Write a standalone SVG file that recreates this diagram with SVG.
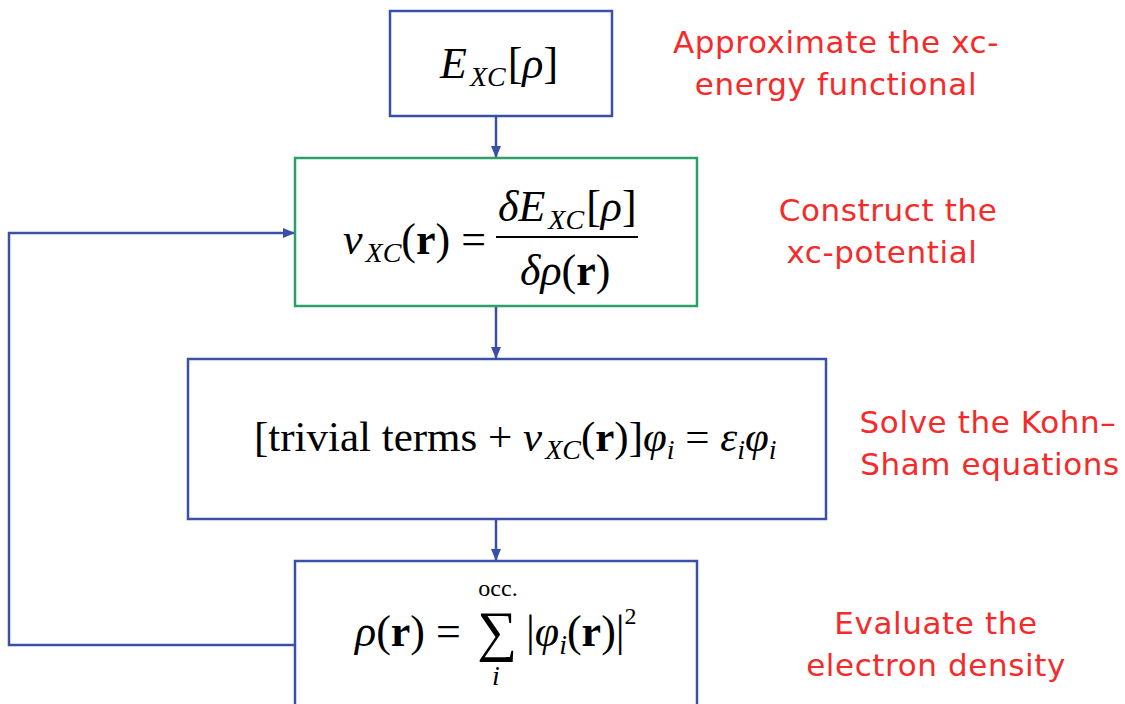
<svg xmlns="http://www.w3.org/2000/svg" width="1125" height="704" viewBox="0 0 1125 704">
<style>
.box{fill:#fff;stroke:#3a4fa8;stroke-width:2.5}
.gbox{fill:#fff;stroke:#2e9e6a;stroke-width:2.5}
.con{fill:none;stroke:#3a4fa8;stroke-width:2.5}
.m{font-family:"Liberation Serif","Times New Roman",serif;fill:#000}
.i{font-style:italic}
.b{font-weight:bold}
.lbl{font-family:"DejaVu Sans","Noto Sans",sans-serif;font-size:31px;letter-spacing:0.6px;fill:#f52a2a;text-anchor:middle}
</style>
<defs>
<marker id="ah" markerWidth="12" markerHeight="12" refX="11" refY="6" orient="auto" markerUnits="userSpaceOnUse">
<path d="M0,1 L12,6 L0,11 Z" fill="#3a4fa8"/>
</marker>
</defs>
<rect width="1125" height="704" fill="#fff"/>
<g id="connectors">
<line class="con" x1="496" y1="116" x2="496" y2="157" marker-end="url(#ah)"/>
<line class="con" x1="496" y1="307" x2="496" y2="358" marker-end="url(#ah)"/>
<line class="con" x1="496" y1="520" x2="496" y2="560" marker-end="url(#ah)"/>
<polyline class="con" points="295,645 9,645 9,233 294,233" marker-end="url(#ah)"/>
</g>
<g id="node1">
<rect class="box" x="390" y="11" width="222" height="105"/>
<text class="m" x="440" y="78" font-size="44"><tspan class="i">E</tspan><tspan class="i" font-size="28" dx="3" dy="8">XC</tspan><tspan dx="2" dy="-8">[</tspan><tspan class="i">ρ</tspan>]</text>
</g>
<g id="node2">
<rect class="gbox" x="295" y="158" width="402" height="148"/>
<text class="m" x="343" y="254" font-size="44"><tspan class="i">v</tspan><tspan class="i" font-size="28" dx="3" dy="8">XC</tspan><tspan dy="-8">(</tspan><tspan class="b">r</tspan>) =</text>
<line x1="496" y1="237" x2="638" y2="237" stroke="#000" stroke-width="2"/>
<text class="m" x="498" y="221" font-size="44"><tspan class="i">δE</tspan><tspan class="i" font-size="28" dx="3" dy="8">XC</tspan><tspan dx="2" dy="-8">[</tspan><tspan class="i">ρ</tspan>]</text>
<text class="m" x="520" y="285" font-size="44"><tspan class="i">δρ</tspan>(<tspan class="b">r</tspan>)</text>
</g>
<g id="node3">
<rect class="box" x="188" y="359" width="638" height="160"/>
<text class="m" x="254" y="451" font-size="43">[trivial terms + <tspan class="i">v</tspan><tspan class="i" font-size="28" dx="3" dy="8">XC</tspan><tspan dy="-8">(</tspan><tspan class="b">r</tspan>)]<tspan class="i">φ</tspan><tspan class="i" font-size="28" dy="8">i</tspan><tspan dy="-8"> = </tspan><tspan class="i">ε</tspan><tspan class="i" font-size="28" dy="8">i</tspan><tspan class="i" dy="-8">φ</tspan><tspan class="i" font-size="28" dy="8">i</tspan></text>
</g>
<g id="node4">
<rect class="box" x="295" y="561" width="402" height="160"/>
<text class="m" x="355" y="646" font-size="44"><tspan class="i">ρ</tspan>(<tspan class="b">r</tspan>) =</text>
<text class="m" x="497" y="650" font-size="56" text-anchor="middle">∑</text>
<text class="m" x="498" y="596" font-size="24" text-anchor="middle">occ.</text>
<text class="m i" x="496" y="685" font-size="28" text-anchor="middle">i</text>
<text class="m" x="526" y="646" font-size="44">|<tspan class="i">φ</tspan><tspan class="i" font-size="28" dy="8">i</tspan><tspan dy="-8">(</tspan><tspan class="b">r</tspan>)|<tspan font-size="24" dy="-22">2</tspan></text>
</g>
<g id="labels">
<text class="lbl" x="836" y="53">Approximate the xc-</text>
<text class="lbl" x="836" y="95">energy functional</text>
<text class="lbl" x="888" y="221">Construct the</text>
<text class="lbl" x="882" y="263">xc-potential</text>
<text class="lbl" x="988" y="433">Solve the Kohn–</text>
<text class="lbl" x="990" y="475">Sham equations</text>
<text class="lbl" x="936" y="634">Evaluate the</text>
<text class="lbl" x="936" y="676">electron density</text>
</g>
</svg>
